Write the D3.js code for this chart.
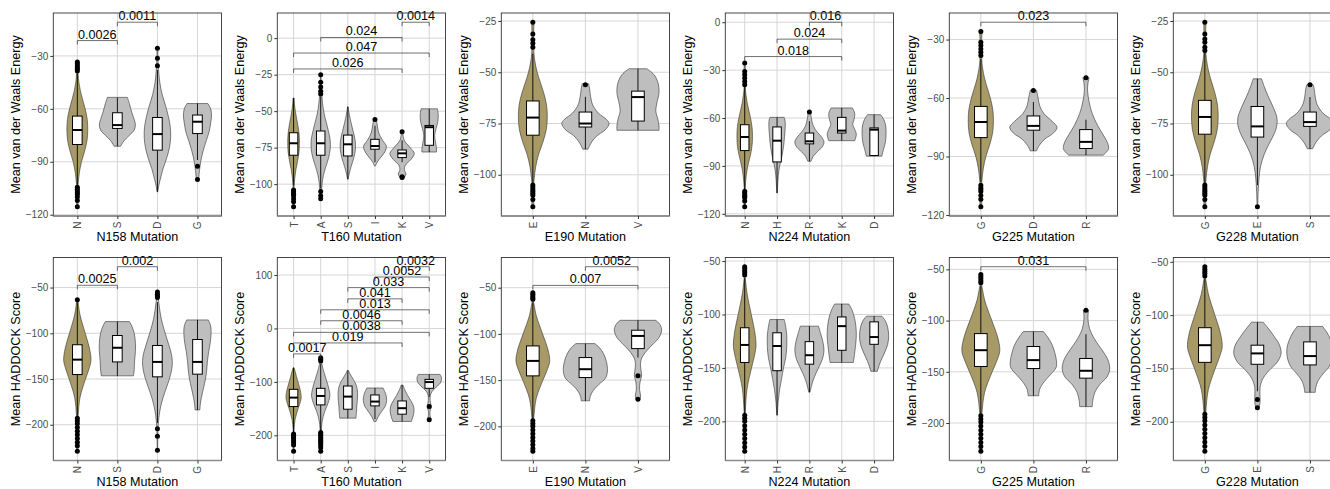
<!DOCTYPE html>
<html>
<head>
<meta charset="utf-8">
<script src="https://cdn.jsdelivr.net/npm/d3@7"></script>
<style>
  body { margin: 0; background: #fff; }
  svg { display: block; font-family: "Liberation Sans", Arial, sans-serif; }
</style>
</head>
<body>
<svg id="chart" width="1330" height="489"></svg>
<script>
// mutation sites and residues seen at each one (first = wild type)
const mutations = ['N158', 'T160', 'E190', 'N224', 'G225', 'G228'];
const residues = [
  ['N', 'S', 'D', 'G'],
  ['T', 'A', 'S', 'I', 'K', 'V'],
  ['E', 'N', 'V'],
  ['N', 'H', 'R', 'K', 'D'],
  ['G', 'D', 'R'],
  ['G', 'E', 'S']
];

// ---- van der Waals row ----
const vdwTicks = [
  [-120, -90, -60, -30], [-100, -75, -50, -25, 0], [-100, -75, -50, -25],
  [-120, -90, -60, -30, 0], [-120, -90, -60, -30], [-100, -75, -50, -25]
];
// box stats: [lower whisker, q1, median, q3, upper whisker]
const vdwBoxes = [
  [[-103, -80.2, -72, -64.1, -40], [-81.2, -71.1, -69.2, -62.2, -53.7], [-107, -83.4, -74.3, -64.9, -38], [-89, -74, -67.3, -63.5, -56.9]],
  [[-101, -80.2, -72, -64.8, -41], [-103, -80.2, -72, -63.6, -40], [-96.6, -80.7, -72.7, -66.4, -47], [-85, -76.1, -73.9, -69.3, -60], [-85, -81.8, -78.9, -76.6, -70], [-78, -73.4, -61, -59.8, -48.4]],
  [[-104, -80.7, -72.1, -64, -41], [-87.5, -76.7, -75, -69.4, -62], [-78.3, -73.8, -62.1, -59.2, -48.3]],
  [[-104.5, -80.4, -71.9, -64.2, -40], [-107, -87.5, -74.2, -65.6, -59.6], [-87.1, -76.2, -74.6, -69.4, -62], [-74.2, -69.4, -67.9, -59.6, -53.7], [-83.9, -83.5, -67.3, -66.2, -57.9]],
  [[-103, -80.3, -72.3, -64.3, -40], [-87.1, -76.5, -74.3, -69.2, -62], [-89.3, -85.9, -82.5, -76.2, -71.1]],
  [[-104, -80.2, -71.8, -63.7, -40], [-105, -81.6, -76.4, -66.7, -53.2], [-87.3, -76.4, -74.3, -69.4, -62.1]]
];
const vdwOutliers = [
  [[-33.5, -34.5, -35.5, -36.5, -37.5, -38.5, -104.5, -105.5, -106.5, -107.5, -108.5, -110, -112, -115.5], [], [-25.6, -31.3, -35.5], [-92.5, -100]],
  [[-104, -105, -106, -107, -108, -110, -112, -115.5], [-25, -30.2, -33.4, -36.4, -38.2, -105, -108, -110], [], [-55.7], [-64.1, -95, -95.5], []],
  [[-25.6, -31.3, -34.2, -35.9, -37.8, -105, -106, -107, -108, -109, -110, -112, -115.6], [-56.1], []],
  [[-25.6, -30.8, -32.9, -35, -37.1, -39.2, -105.8, -107, -108, -109, -110, -112, -115.6], [], [-56.2], [], []],
  [[-25.9, -31.4, -33.1, -34.8, -36.5, -38.2, -104.7, -106, -107, -108, -110, -112, -115.8], [-56.1], [-49.6]],
  [[-25.6, -31.3, -33.8, -35.4, -37.8, -39.4, -105, -106, -107, -108, -109, -110, -112, -115.6], [-115.6], [-56.1]]
];
// wild type violin outline (relative half width), its width per panel and its range
const wtVdwShape = [[-40, 0.07], [-45, 0.15], [-50, 0.3], [-55, 0.52], [-60, 0.75], [-66, 0.95], [-72, 1], [-78, 0.93], [-84, 0.7], [-90, 0.4], [-96, 0.2], [-102, 0.09], [-106, 0.05]];
const wtVdwWidth = [0.26, 0.215, 0.275, 0.24, 0.24, 0.254];
const wtVdwRange = [[-115.5, -33.5], [-115.5, -41], [-115.6, -25.6], [-115.6, -25.6], [-115.8, -25.9], [-115.6, -25.6]];
// mutant violins: [value, half width as share of category step]
const vdwViolins = [
  [null,
    [[-53.5, 0.25], [-57, 0.3], [-62, 0.36], [-66, 0.42], [-69, 0.45], [-72, 0.42], [-75, 0.3], [-78, 0.17], [-81.2, 0.08]],
    [[-25.6, 0.01], [-35, 0.02], [-45, 0.06], [-52, 0.12], [-58, 0.2], [-64, 0.27], [-70, 0.32], [-76, 0.33], [-82, 0.3], [-88, 0.23], [-94, 0.14], [-100, 0.07], [-104, 0.03], [-107, 0.01]],
    [[-57, 0.26], [-60, 0.33], [-64, 0.35], [-68, 0.33], [-73, 0.29], [-78, 0.22], [-84, 0.14], [-90, 0.08], [-95, 0.05], [-100, 0.03]]],
  [null,
    [[-25, 0.01], [-35, 0.03], [-45, 0.07], [-52, 0.13], [-58, 0.21], [-64, 0.29], [-70, 0.35], [-76, 0.35], [-82, 0.29], [-88, 0.19], [-94, 0.1], [-100, 0.05], [-105, 0.03], [-110, 0.01]],
    [[-47, 0.01], [-52, 0.05], [-58, 0.12], [-64, 0.2], [-70, 0.27], [-76, 0.28], [-82, 0.22], [-88, 0.12], [-93, 0.05], [-96.6, 0.01]],
    [[-55.5, 0.05], [-60, 0.09], [-65, 0.14], [-70, 0.28], [-74, 0.42], [-78, 0.36], [-82, 0.2], [-85, 0.08], [-87.5, 0.02]],
    [[-64, 0.02], [-70, 0.08], [-75, 0.3], [-79, 0.45], [-83, 0.33], [-87, 0.12], [-90, 0.08], [-93, 0.14], [-95.5, 0.08]],
    [[-48.4, 0.3], [-52, 0.33], [-57, 0.32], [-62, 0.25], [-67, 0.2], [-72, 0.24], [-76, 0.27], [-78, 0.27]]],
  [null,
    [[-55.6, 0.06], [-58, 0.08], [-62, 0.1], [-66, 0.14], [-70, 0.25], [-73, 0.4], [-75, 0.45], [-78, 0.38], [-81, 0.22], [-84, 0.12], [-87.5, 0.05]],
    [[-48.3, 0.17], [-51, 0.3], [-55, 0.38], [-60, 0.4], [-65, 0.36], [-69, 0.34], [-73, 0.38], [-76, 0.4], [-78.3, 0.4]]],
  [null,
    [[-59.6, 0.22], [-62, 0.25], [-67, 0.25], [-72, 0.23], [-78, 0.2], [-84, 0.15], [-90, 0.08], [-96, 0.04], [-102, 0.02], [-107, 0.005]],
    [[-56.2, 0.04], [-60, 0.06], [-65, 0.12], [-69, 0.25], [-72, 0.38], [-75, 0.45], [-78, 0.4], [-81, 0.25], [-84, 0.12], [-87.1, 0.05]],
    [[-53.7, 0.33], [-57, 0.4], [-61, 0.38], [-64, 0.34], [-67, 0.4], [-70, 0.45], [-72.5, 0.43], [-74.2, 0.4]],
    [[-57.9, 0.2], [-61, 0.3], [-65, 0.36], [-70, 0.37], [-75, 0.35], [-79, 0.3], [-82, 0.26], [-83.9, 0.24]]],
  [null,
    [[-56, 0.06], [-60, 0.09], [-64, 0.12], [-68, 0.2], [-72, 0.36], [-75, 0.45], [-78, 0.38], [-81, 0.22], [-84, 0.12], [-87.1, 0.06]],
    [[-49.6, 0.06], [-52, 0.04], [-56, 0.03], [-62, 0.06], [-68, 0.12], [-74, 0.22], [-79, 0.33], [-83, 0.41], [-86, 0.43], [-88, 0.38], [-89.3, 0.33]]],
  [null,
    [[-53.2, 0.08], [-57, 0.13], [-62, 0.21], [-67, 0.3], [-72, 0.37], [-76, 0.37], [-80, 0.32], [-85, 0.22], [-90, 0.13], [-96, 0.06], [-102, 0.03], [-108, 0.015], [-115.6, 0.005]],
    [[-56.1, 0.06], [-58, 0.08], [-62, 0.1], [-66, 0.14], [-70, 0.25], [-73, 0.4], [-75, 0.45], [-78, 0.38], [-81, 0.22], [-84, 0.12], [-87.3, 0.05]]]
];
// significance brackets: [from, to, y, p value]
const vdwBrackets = [
  [[0, 1, -21.3, '0.0026'], [1, 2, -10.9, '0.0011']],
  [[0, 4, -21.1, '0.026'], [0, 5, -10.2, '0.047'], [1, 4, 0.45, '0.024'], [4, 5, 10.9, '0.0014']],
  [],
  [[0, 3, -21.5, '0.018'], [1, 3, -10.6, '0.024'], [2, 3, 0, '0.016']],
  [[0, 2, -21.1, '0.023']],
  []
];

// ---- HADDOCK row ----
const hadTicks = [
  [-200, -150, -100, -50], [-200, -100, 0, 100], [-200, -150, -100, -50],
  [-200, -150, -100, -50], [-200, -150, -100, -50], [-200, -150, -100, -50]
];
const hadBoxes = [
  [[-191, -145.1, -128.8, -112.5, -66], [-146.5, -131.3, -115.8, -102.4, -87.2], [-198, -147.6, -131.3, -113.3, -66], [-183.8, -144.7, -131.3, -106.8, -85.4]],
  [[-194.5, -146.1, -129.4, -113.9, -73.6], [-191, -143, -126.3, -112, -66], [-167.8, -151.1, -127.5, -107.7, -78.6], [-169.7, -144.9, -136.8, -124.4, -111.4], [-174, -160.4, -149.2, -135.6, -105.8], [-128, -112, -100.3, -95.3, -86]],
  [[-192, -145.4, -129.2, -113, -66], [-172.4, -147.2, -138.2, -125.6, -110.5], [-125.6, -115.9, -102.2, -96, -85.3]],
  [[-192.8, -144.9, -128.5, -112.4, -66], [-194.3, -152.6, -129.5, -117.1, -104.7], [-172.7, -146.5, -138.1, -125.4, -110.9], [-144.9, -133.5, -110.9, -102.3, -90.2], [-153.2, -127.9, -121.1, -106.9, -101.6]],
  [[-191, -144.8, -128.9, -112.7, -66], [-173.4, -146.8, -138.6, -125.3, -110.7], [-184, -156.2, -149, -137, -113.3]],
  [[-191.5, -144.3, -128.2, -111.8, -66], [-171.4, -146.1, -135.9, -128.2, -106.6], [-172.4, -146.7, -138.4, -125.1, -110.6]]
];
const hadOutliers = [
  [[-63.4, -192.8, -196, -199, -203, -207, -211, -215, -219, -223, -229], [], [-54.7, -57.2, -59, -60.8, -204.4, -212.7, -227.9], []],
  [[-197.6, -200, -203, -206, -210, -214, -218, -229.8], [-55, -57.5, -61, -194.5, -197, -200, -203, -206, -209, -212, -215, -219, -223, -229.8], [], [], [], [-146.1, -171]],
  [[-55.4, -57, -59, -61, -62.6, -194, -197, -200, -204, -208, -212, -216, -220, -224, -227], [], [-145.4, -170.6]],
  [[-55.3, -57, -59, -61, -63, -194.3, -197, -200, -204, -208, -212, -216, -220, -224, -228], [], [], [], []],
  [[-54.9, -57, -59, -61, -63, -193, -196, -199, -203, -207, -211, -215, -219, -223, -227.6], [], [-89.9]],
  [[-54.6, -57, -59, -61, -63.3, -193, -196, -199, -203, -207, -211, -215, -219, -223, -227.7], [-179.2, -186.9], []]
];
const wtHadShape = [[-63, 0.03], [-70, 0.09], [-80, 0.2], [-90, 0.38], [-100, 0.58], [-110, 0.78], [-120, 0.94], [-130, 1], [-140, 0.83], [-150, 0.6], [-160, 0.38], [-170, 0.2], [-180, 0.11], [-190, 0.06], [-200, 0.03]];
const wtHadWidth = [0.34, 0.28, 0.32, 0.35, 0.36, 0.33];
const wtHadRange = [[-229, -63.4], [-229.8, -73.6], [-227, -55.4], [-228, -55.3], [-227.6, -54.9], [-227.7, -54.6]];
const hadViolins = [
  [null,
    [[-87.2, 0.3], [-92, 0.36], [-100, 0.42], [-110, 0.45], [-120, 0.45], [-130, 0.43], [-140, 0.42], [-146.5, 0.4]],
    [[-54.7, 0.01], [-65, 0.03], [-75, 0.06], [-85, 0.1], [-95, 0.16], [-105, 0.23], [-115, 0.3], [-125, 0.36], [-135, 0.37], [-145, 0.33], [-155, 0.26], [-165, 0.18], [-175, 0.11], [-185, 0.06], [-195, 0.03], [-205, 0.015], [-227.9, 0.005]],
    [[-85.4, 0.27], [-92, 0.33], [-100, 0.34], [-110, 0.32], [-120, 0.28], [-130, 0.25], [-140, 0.23], [-150, 0.2], [-160, 0.15], [-170, 0.1], [-178, 0.07], [-183.8, 0.06]]],
  [null,
    [[-55, 0.01], [-65, 0.04], [-75, 0.08], [-85, 0.14], [-95, 0.2], [-105, 0.26], [-115, 0.31], [-125, 0.34], [-135, 0.3], [-145, 0.23], [-155, 0.15], [-165, 0.09], [-175, 0.05], [-185, 0.03], [-200, 0.015], [-229.8, 0.005]],
    [[-78.6, 0.02], [-85, 0.08], [-95, 0.2], [-105, 0.3], [-115, 0.35], [-125, 0.36], [-135, 0.35], [-145, 0.33], [-155, 0.32], [-167.8, 0.3]],
    [[-111.4, 0.3], [-118, 0.36], [-125, 0.41], [-135, 0.43], [-145, 0.38], [-155, 0.25], [-165, 0.12], [-174, 0.04]],
    [[-105.8, 0.03], [-115, 0.1], [-125, 0.2], [-135, 0.32], [-145, 0.42], [-155, 0.44], [-165, 0.4], [-174, 0.34]],
    [[-86, 0.4], [-92, 0.45], [-100, 0.43], [-108, 0.3], [-115, 0.15], [-122, 0.06], [-130, 0.03], [-140, 0.05], [-147, 0.07], [-155, 0.03], [-163, 0.03], [-169, 0.06], [-171, 0.04]]],
  [null,
    [[-110.5, 0.18], [-115, 0.27], [-122, 0.35], [-130, 0.4], [-140, 0.42], [-148, 0.38], [-155, 0.25], [-162, 0.14], [-168, 0.09], [-172.4, 0.08]],
    [[-85.3, 0.34], [-90, 0.42], [-96, 0.45], [-104, 0.4], [-112, 0.27], [-120, 0.14], [-128, 0.06], [-136, 0.05], [-145, 0.07], [-152, 0.04], [-160, 0.03], [-167, 0.05], [-170.6, 0.04]]],
  [null,
    [[-104.7, 0.22], [-112, 0.27], [-120, 0.3], [-130, 0.3], [-140, 0.27], [-150, 0.2], [-160, 0.14], [-170, 0.08], [-180, 0.04], [-190, 0.015], [-194.3, 0.005]],
    [[-110.9, 0.28], [-118, 0.35], [-126, 0.42], [-134, 0.45], [-142, 0.4], [-150, 0.28], [-158, 0.16], [-165, 0.08], [-172.7, 0.02]],
    [[-90.2, 0.22], [-96, 0.32], [-104, 0.4], [-112, 0.44], [-120, 0.45], [-128, 0.43], [-136, 0.4], [-144.9, 0.36]],
    [[-101.6, 0.24], [-106, 0.35], [-112, 0.42], [-120, 0.45], [-128, 0.42], [-136, 0.32], [-144, 0.2], [-150, 0.13], [-153.2, 0.1]]],
  [null,
    [[-110.7, 0.19], [-116, 0.27], [-124, 0.36], [-132, 0.41], [-140, 0.44], [-146, 0.43], [-153, 0.32], [-160, 0.2], [-167, 0.12], [-173.4, 0.1]],
    [[-89.9, 0.05], [-94, 0.04], [-100, 0.04], [-108, 0.07], [-116, 0.14], [-124, 0.24], [-132, 0.35], [-140, 0.43], [-148, 0.45], [-155, 0.4], [-162, 0.27], [-170, 0.17], [-178, 0.13], [-184, 0.12]]],
  [null,
    [[-106.6, 0.11], [-112, 0.2], [-120, 0.32], [-128, 0.42], [-136, 0.45], [-144, 0.38], [-152, 0.22], [-160, 0.1], [-168, 0.05], [-176, 0.05], [-182, 0.05], [-186.9, 0.03]],
    [[-110.6, 0.24], [-116, 0.32], [-124, 0.4], [-132, 0.44], [-140, 0.43], [-148, 0.37], [-155, 0.25], [-162, 0.15], [-168, 0.11], [-172.4, 0.1]]]
];
const hadBrackets = [
  [[0, 1, -47.5, '0.0025'], [1, 2, -27.2, '0.002']],
  [[0, 1, -47.6, '0.0017'], [0, 4, -27.1, '0.019'], [0, 5, -7.3, '0.0038'], [1, 4, 14.4, '0.0046'], [1, 5, 34.9, '0.013'],
   [2, 4, 55.4, '0.041'], [2, 5, 76.4, '0.033'], [3, 5, 96.3, '0.0052'], [4, 5, 115.5, '0.0032']],
  [[0, 2, -47.5, '0.007'], [1, 2, -27.3, '0.0052']],
  [],
  [[0, 2, -47.4, '0.031']],
  []
];

const rows = [
  { title: 'Mean van der Waals Energy', top: 13, bottom: 216, ticks: vdwTicks, boxes: vdwBoxes, outliers: vdwOutliers,
    violins: vdwViolins, brackets: vdwBrackets, wtShape: wtVdwShape, wtWidth: wtVdwWidth, wtRange: wtVdwRange },
  { title: 'Mean HADDOCK Score', top: 257.5, bottom: 460.5, ticks: hadTicks, boxes: hadBoxes, outliers: hadOutliers,
    violins: hadViolins, brackets: hadBrackets, wtShape: wtHadShape, wtWidth: wtHadWidth, wtRange: wtHadRange }
];

const colW = 224, plotL = 53.3, plotR = 221.5;
const wtFill = '#a79a66', mutFill = '#bebebe';
const svg = d3.select('#chart');
svg.append('rect').attr('width', 1330).attr('height', 489).attr('fill', '#fff');

rows.forEach((row) => {
  mutations.forEach((mut, i) => {
    const cats = residues[i];
    const left = i * colW + plotL, right = i * colW + plotR;
    const x = d3.scalePoint().domain(cats).range([left, right]).padding(0.6);
    const step = x.step();

    // wild type violin: shared outline, trimmed to its own data range
    const [wMin, wMax] = row.wtRange[i];
    const wtPts = [[wMax, 0.02]]
      .concat(row.wtShape.filter((d) => d[0] < wMax && d[0] > wMin).map((d) => [d[0], d[1] * row.wtWidth[i]]))
      .concat([[wMin, 0.02]]);
    const violins = cats.map((c, k) => (k === 0 ? wtPts : row.violins[i][k]));

    // y range = everything drawn, expanded by 5% like ggplot
    const vals = [];
    violins.forEach((v) => v.forEach((d) => vals.push(d[0])));
    row.outliers[i].forEach((o) => vals.push(...o));
    row.boxes[i].forEach((b) => vals.push(...b));
    row.brackets[i].forEach((b) => vals.push(b[2]));
    const [lo, hi] = d3.extent(vals);
    const pad = (hi - lo) * 0.05;
    const y = d3.scaleLinear().domain([lo - pad, hi + pad]).range([row.bottom, row.top]);

    const g = svg.append('g');

    // grid
    g.selectAll('.hgrid').data(row.ticks[i]).join('line')
      .attr('x1', left).attr('x2', right)
      .attr('y1', (d) => y(d)).attr('y2', (d) => y(d))
      .attr('stroke', '#d6d6d6').attr('stroke-width', 1);
    g.selectAll('.vgrid').data(cats).join('line')
      .attr('x1', (d) => x(d)).attr('x2', (d) => x(d))
      .attr('y1', row.top).attr('y2', row.bottom)
      .attr('stroke', '#d6d6d6').attr('stroke-width', 1);

    // violins
    cats.forEach((c, k) => {
      const cx = x(c);
      const area = d3.area()
        .curve(d3.curveCatmullRom.alpha(0.5))
        .y((d) => y(d[0]))
        .x0((d) => cx - d[1] * step)
        .x1((d) => cx + d[1] * step);
      g.append('path')
        .attr('d', area(violins[k]))
        .attr('fill', k === 0 ? wtFill : mutFill)
        .attr('stroke', '#333').attr('stroke-width', 0.6);
    });

    // boxplots
    const bw = Math.max(step * 0.24, 8.5);
    cats.forEach((c, k) => {
      const cx = x(c);
      const [wl, q1, med, q3, wh] = row.boxes[i][k];
      g.append('line').attr('x1', cx).attr('x2', cx).attr('y1', y(wh)).attr('y2', y(q3))
        .attr('stroke', '#000').attr('stroke-width', 0.9);
      g.append('line').attr('x1', cx).attr('x2', cx).attr('y1', y(q1)).attr('y2', y(wl))
        .attr('stroke', '#000').attr('stroke-width', 0.9);
      g.append('rect').attr('x', cx - bw / 2).attr('width', bw)
        .attr('y', y(q3)).attr('height', y(q1) - y(q3))
        .attr('fill', '#fff').attr('stroke', '#000').attr('stroke-width', 1);
      g.append('line').attr('x1', cx - bw / 2).attr('x2', cx + bw / 2).attr('y1', y(med)).attr('y2', y(med))
        .attr('stroke', '#000').attr('stroke-width', 2);
      g.selectAll(null).data(row.outliers[i][k]).join('circle')
        .attr('cx', cx).attr('cy', (d) => y(d)).attr('r', 2.5).attr('fill', '#000');
    });

    // significance brackets
    const tip = 4;
    row.brackets[i].forEach(([a, b, yv, label]) => {
      const xa = x(cats[a]), xb = x(cats[b]), yy = y(yv);
      g.append('path')
        .attr('d', `M${xa},${yy + tip}L${xa},${yy}L${xb},${yy}L${xb},${yy + tip}`)
        .attr('fill', 'none').attr('stroke', '#333').attr('stroke-width', 0.7);
      g.append('text').attr('x', (xa + xb) / 2).attr('y', yy - 2)
        .attr('text-anchor', 'middle').attr('font-size', 12.6).attr('fill', '#000')
        .text(label);
    });

    // panel border
    g.append('rect').attr('x', left).attr('y', row.top)
      .attr('width', right - left).attr('height', row.bottom - row.top)
      .attr('fill', 'none').attr('stroke', '#333').attr('stroke-width', 0.9);
    g.append('line').attr('x1', left).attr('x2', right).attr('y1', row.bottom).attr('y2', row.bottom)
      .attr('stroke', '#8c8c8c').attr('stroke-width', 1.6);

    // axes
    const ya = g.append('g').attr('transform', `translate(${left},0)`)
      .call(d3.axisLeft(y).tickValues(row.ticks[i]).tickSize(3).tickPadding(2));
    ya.select('.domain').remove();
    ya.selectAll('line').attr('stroke', '#333');
    ya.selectAll('text').attr('fill', '#4d4d4d').attr('font-size', 10).attr('font-family', null);

    const xa = g.append('g').attr('transform', `translate(0,${row.bottom})`)
      .call(d3.axisBottom(x).tickSize(3));
    xa.select('.domain').remove();
    xa.selectAll('line').attr('stroke', '#333');
    xa.selectAll('text')
      .attr('transform', 'rotate(-90)')
      .attr('x', -5.5).attr('y', 0).attr('dy', '0.35em')
      .attr('text-anchor', 'end')
      .attr('fill', '#4d4d4d').attr('font-size', 10).attr('font-family', null);

    // titles
    g.append('text').attr('x', (left + right) / 2).attr('y', row.bottom + 25.3)
      .attr('text-anchor', 'middle').attr('font-size', 12.6).text(`${mut} Mutation`);
    const ty = (row.top + row.bottom) / 2;
    g.append('text').attr('transform', `translate(${i * colW + 19.5},${ty}) rotate(-90)`)
      .attr('text-anchor', 'middle').attr('font-size', 12.6).text(row.title);
  });
});
</script>
</body>
</html>
